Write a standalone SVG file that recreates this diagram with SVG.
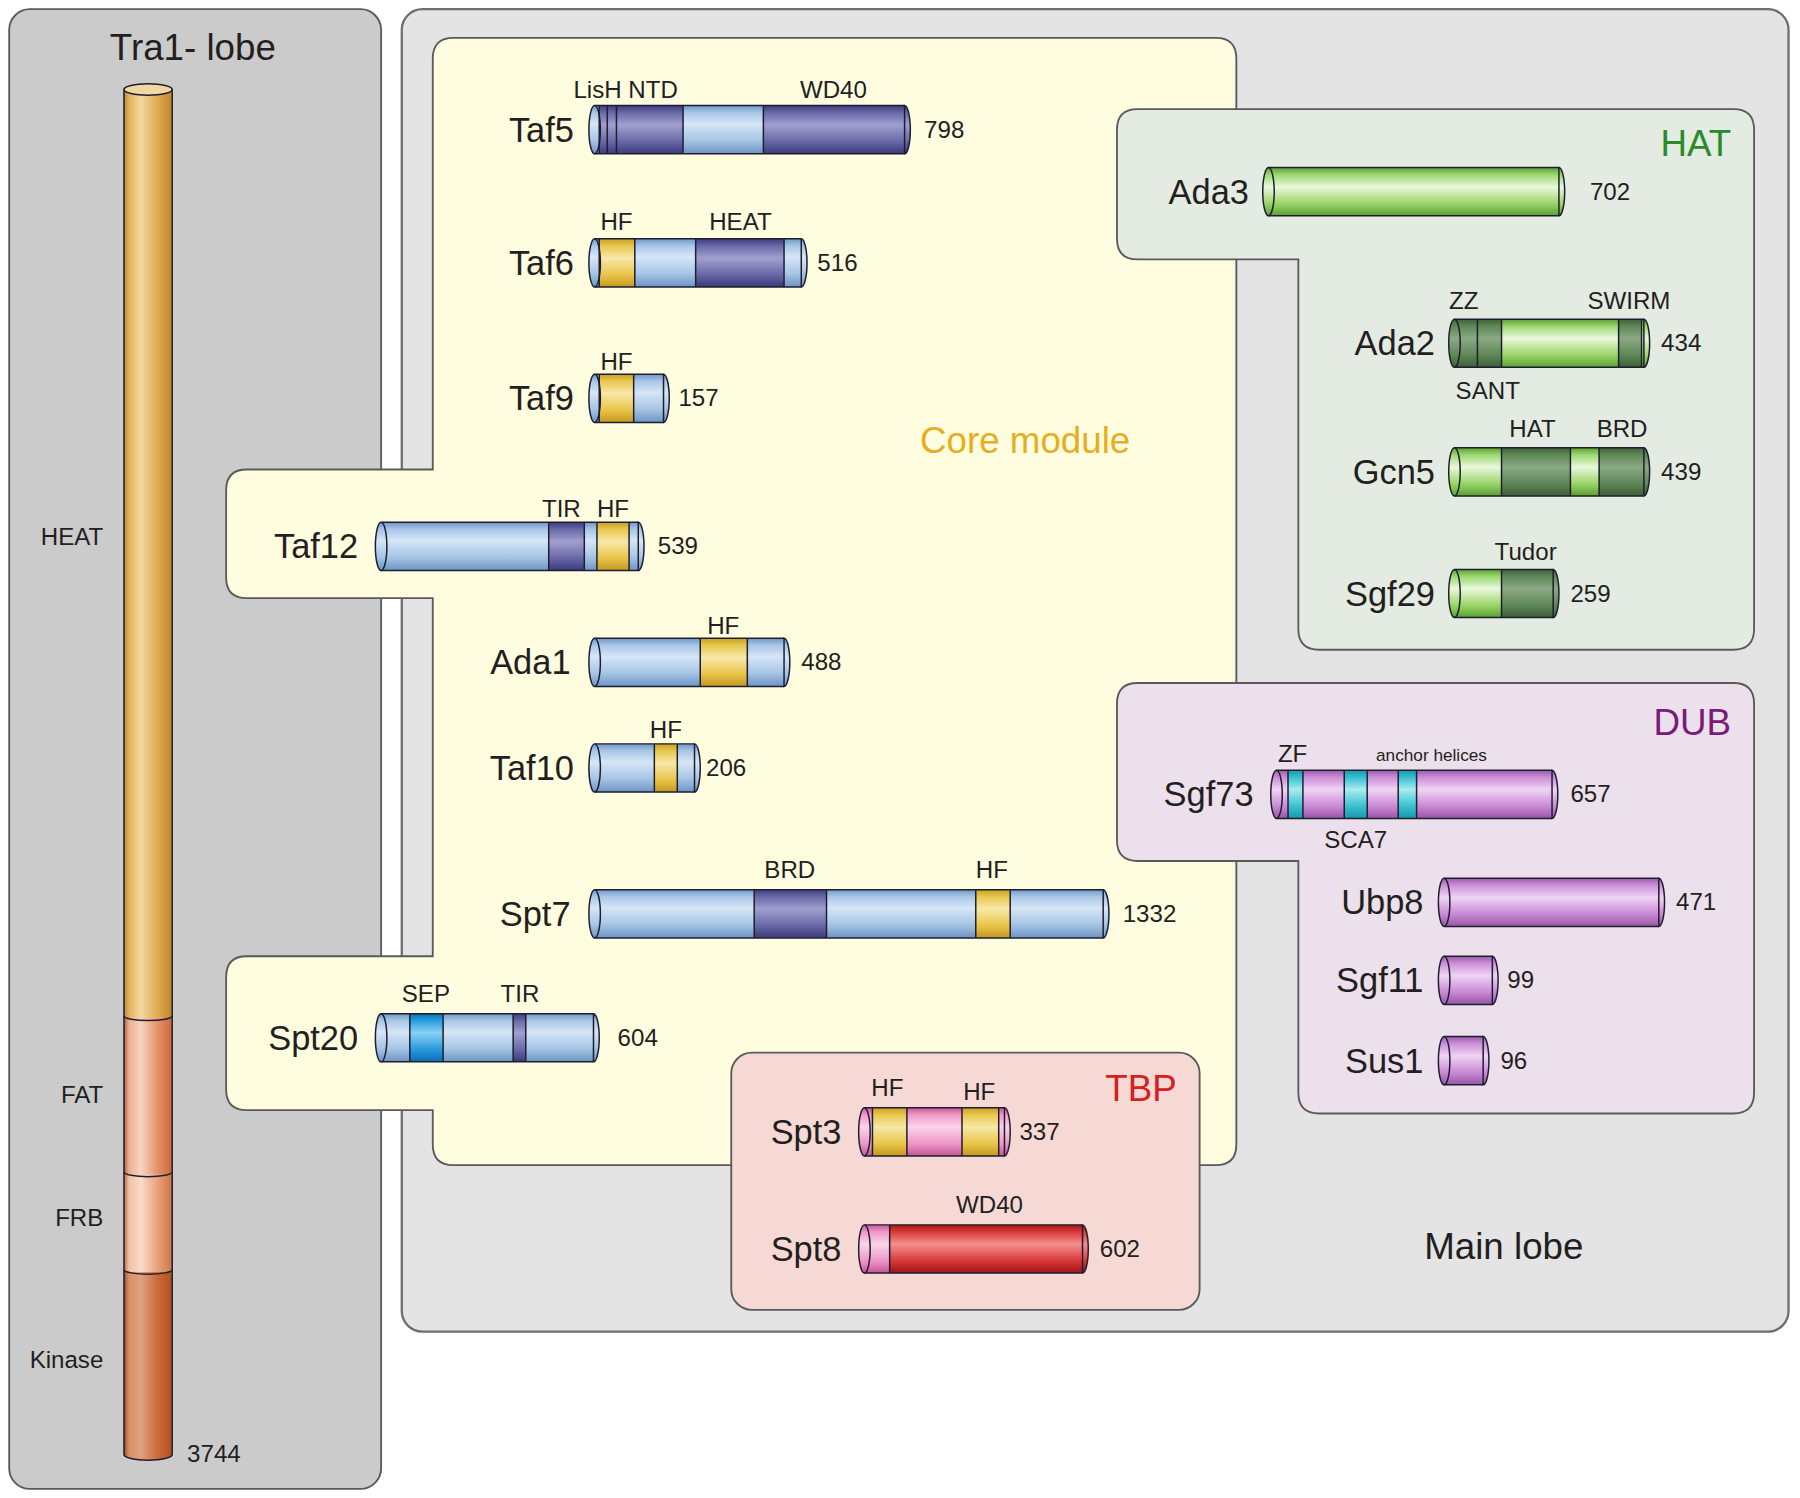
<svg xmlns="http://www.w3.org/2000/svg" width="1800" height="1498" viewBox="0 0 1800 1498">
<style>
.pn{font:30px "Liberation Sans",Arial,sans-serif;fill:#231f20;text-anchor:end}
.dl{font:21px "Liberation Sans",Arial,sans-serif;fill:#231f20;text-anchor:middle}
.nm{font:21px "Liberation Sans",Arial,sans-serif;fill:#231f20}
.tl{font:21px "Liberation Sans",Arial,sans-serif;fill:#231f20;text-anchor:end}
.big{font:32px "Liberation Sans",Arial,sans-serif;fill:#231f20}
.o{fill:none;stroke:#1e1e30;stroke-width:1.3;stroke-linejoin:round}
.c{stroke:#1e1e30;stroke-width:1.3}
.lb{fill:url(#gLB)}.dp{fill:url(#gDP)}.ye{fill:url(#gYE)}.gr{fill:url(#gGR)}.dg{fill:url(#gDG)}
.li{fill:url(#gLI)}.cy{fill:url(#gCY)}.pk{fill:url(#gPK)}.rd{fill:url(#gRD)}.sb{fill:url(#gSB)}
.panel{stroke:#5a5a5a;stroke-width:1.6}
</style>
<defs>
<linearGradient id="gLB" x1="0" y1="0" x2="0" y2="1"><stop offset="0" stop-color="#6f98c8"/><stop offset=".15" stop-color="#a9c7e6"/><stop offset=".38" stop-color="#d6e6f6"/><stop offset=".72" stop-color="#a7c5e5"/><stop offset="1" stop-color="#6d94c4"/></linearGradient>
<linearGradient id="gDP" x1="0" y1="0" x2="0" y2="1"><stop offset="0" stop-color="#3c3c80"/><stop offset=".15" stop-color="#6a6aa8"/><stop offset=".4" stop-color="#a0a0d0"/><stop offset=".75" stop-color="#6767a6"/><stop offset="1" stop-color="#3a3a7c"/></linearGradient>
<linearGradient id="gYE" x1="0" y1="0" x2="0" y2="1"><stop offset="0" stop-color="#c9a020"/><stop offset=".15" stop-color="#e8c850"/><stop offset=".4" stop-color="#f8e8a8"/><stop offset=".75" stop-color="#e8c448"/><stop offset="1" stop-color="#c49820"/></linearGradient>
<linearGradient id="gGR" x1="0" y1="0" x2="0" y2="1"><stop offset="0" stop-color="#5aa030"/><stop offset=".15" stop-color="#9cd870"/><stop offset=".4" stop-color="#eaf8dc"/><stop offset=".75" stop-color="#9ad468"/><stop offset="1" stop-color="#58a030"/></linearGradient>
<linearGradient id="gDG" x1="0" y1="0" x2="0" y2="1"><stop offset="0" stop-color="#3e6238"/><stop offset=".15" stop-color="#5f8858"/><stop offset=".4" stop-color="#8aaa84"/><stop offset=".75" stop-color="#5e8656"/><stop offset="1" stop-color="#3c5e36"/></linearGradient>
<linearGradient id="gLI" x1="0" y1="0" x2="0" y2="1"><stop offset="0" stop-color="#9a5aa8"/><stop offset=".15" stop-color="#cc90d8"/><stop offset=".4" stop-color="#f0d4f4"/><stop offset=".75" stop-color="#c888d4"/><stop offset="1" stop-color="#9656a6"/></linearGradient>
<linearGradient id="gCY" x1="0" y1="0" x2="0" y2="1"><stop offset="0" stop-color="#1898a8"/><stop offset=".15" stop-color="#38c0d0"/><stop offset=".4" stop-color="#a8ecf0"/><stop offset=".75" stop-color="#38c0d0"/><stop offset="1" stop-color="#1898a8"/></linearGradient>
<linearGradient id="gPK" x1="0" y1="0" x2="0" y2="1"><stop offset="0" stop-color="#c85898"/><stop offset=".15" stop-color="#f09ac8"/><stop offset=".4" stop-color="#fad4ea"/><stop offset=".75" stop-color="#ee96c6"/><stop offset="1" stop-color="#c45494"/></linearGradient>
<linearGradient id="gRD" x1="0" y1="0" x2="0" y2="1"><stop offset="0" stop-color="#a01818"/><stop offset=".15" stop-color="#dc3a3a"/><stop offset=".4" stop-color="#f49090"/><stop offset=".75" stop-color="#d83636"/><stop offset="1" stop-color="#9c1616"/></linearGradient>
<linearGradient id="gSB" x1="0" y1="0" x2="0" y2="1"><stop offset="0" stop-color="#0a70b8"/><stop offset=".15" stop-color="#2a9ee0"/><stop offset=".4" stop-color="#8ad0f4"/><stop offset=".75" stop-color="#2898dc"/><stop offset="1" stop-color="#0a6cb4"/></linearGradient>
<linearGradient id="tGold" x1="0" y1="0" x2="1" y2="0"><stop offset="0" stop-color="#b8862a"/><stop offset=".1" stop-color="#e0b45c"/><stop offset=".35" stop-color="#f2d8a0"/><stop offset=".7" stop-color="#e0aa50"/><stop offset="1" stop-color="#c08428"/></linearGradient>
<linearGradient id="tFat" x1="0" y1="0" x2="1" y2="0"><stop offset="0" stop-color="#b85a30"/><stop offset=".1" stop-color="#eab090"/><stop offset=".35" stop-color="#f8d4c0"/><stop offset=".7" stop-color="#e69068"/><stop offset="1" stop-color="#c86838"/></linearGradient>
<linearGradient id="tFrb" x1="0" y1="0" x2="1" y2="0"><stop offset="0" stop-color="#c06a40"/><stop offset=".1" stop-color="#f0c0a0"/><stop offset=".35" stop-color="#fadcca"/><stop offset=".7" stop-color="#eaa07a"/><stop offset="1" stop-color="#cc7448"/></linearGradient>
<linearGradient id="tKin" x1="0" y1="0" x2="1" y2="0"><stop offset="0" stop-color="#a04818"/><stop offset=".1" stop-color="#d89068"/><stop offset=".35" stop-color="#e0a080"/><stop offset=".7" stop-color="#cc6a38"/><stop offset="1" stop-color="#b05020"/></linearGradient>
</defs>
<rect width="1800" height="1498" fill="#ffffff"/>
<g transform="scale(1.147959)">

<!-- Tra1 lobe -->
<g id="tra1-lobe">
<rect class="panel" x="8" y="8" width="324" height="1289" rx="18" fill="#cbcbcb"/>
<text class="big" x="168" y="52" text-anchor="middle" font-size="31">Tra1- lobe</text>
<rect x="108" y="78" width="42" height="809" fill="url(#tGold)"/>
<rect x="108" y="887" width="42" height="136" fill="url(#tFat)"/>
<rect x="108" y="1023" width="42" height="85" fill="url(#tFrb)"/>
<path d="M108,1108 H150 V1267 A21,5 0 0 1 108,1267 Z" fill="url(#tKin)"/>
<ellipse cx="129" cy="78" rx="21" ry="5" fill="#f0d8a0" class="c"/>
<path class="o" d="M108,78 V1267 A21,5 0 0 0 150,1267 V78"/>
<path class="o" d="M108,885 A21,4 0 0 0 150,885 M108,1021 A21,4 0 0 0 150,1021 M108,1106 A21,4 0 0 0 150,1106"/>
<text class="tl" x="90" y="475">HEAT</text>
<text class="tl" x="90" y="961">FAT</text>
<text class="tl" x="90" y="1068">FRB</text>
<text class="tl" x="90" y="1192">Kinase</text>
<text class="nm" x="163" y="1274">3744</text>
</g>

<!-- Main lobe -->
<g id="main-lobe">
<rect x="350" y="8" width="1208" height="1152" rx="18" fill="#e4e4e4" stroke="#6e6e6e" stroke-width="2"/>
<text class="big" x="1310" y="1097" text-anchor="middle">Main lobe</text>
</g>

<!-- Core module -->
<g id="core-module">
<path class="panel" fill="#fffde0" d="M395,33 H1059 Q1077,33 1077,51 V997 Q1077,1015 1059,1015 H395 Q377,1015 377,997 V967 H215 Q197,967 197,949 V851 Q197,833 215,833 H377 V521 H215 Q197,521 197,503 V427 Q197,409 215,409 H377 V51 Q377,33 395,33 Z"/>
<text class="big" x="893" y="395" text-anchor="middle" fill="#e6ae1e" style="fill:#e6ae1e">Core module</text>
</g>

<!-- HAT module -->
<g id="hat-module">
<path class="panel" fill="#e3ebe3" d="M991,95 H1510 Q1528,95 1528,113 V548 Q1528,566 1510,566 H1149 Q1131,566 1131,548 V226 H991 Q973,226 973,208 V113 Q973,95 991,95 Z"/>
<text class="big" x="1508" y="136" text-anchor="end" style="fill:#2a8a2a">HAT</text>
</g>

<!-- DUB module -->
<g id="dub-module">
<path class="panel" fill="#ece0ec" d="M991,595 H1510 Q1528,595 1528,613 V952 Q1528,970 1510,970 H1149 Q1131,970 1131,952 V750 H991 Q973,750 973,732 V613 Q973,595 991,595 Z"/>
<text class="big" x="1508" y="640" text-anchor="end" style="fill:#7a1a7a">DUB</text>
</g>

<!-- TBP module -->
<g id="tbp-module">
<rect class="panel" x="637" y="917" width="408" height="224" rx="18" fill="#f6d9d5"/>
<text class="big" x="1025" y="959" text-anchor="end" style="fill:#d42020">TBP</text>
</g>

<g id="connectors"></g>

<!-- Proteins -->
<g id="taf5">
<text class="pn" x="500" y="123.5">Taf5</text>
<g transform="translate(513,92)">
<rect class="lb" x="5" y="0" width="4" height="42"/><rect class="dp" x="9" y="0" width="73" height="42"/><rect class="lb" x="82" y="0" width="70" height="42"/><rect class="dp" x="152" y="0" width="123" height="42"/>
<path class="dp c" d="M275,0 A5,21 0 0 1 275,42 Z"/>
<ellipse class="lb c" cx="5" cy="21" rx="5" ry="21"/>
<path class="o" d="M5,0 H275 M5,42 H275 M9,0 V42 M16,0 V42 M24,0 V42 M82,0 V42 M152,0 V42"/>
</g>
<text class="dl" x="545" y="85">LisH NTD</text>
<text class="dl" x="726" y="85">WD40</text>
<text class="nm" x="805" y="120">798</text>
</g>

<g id="taf6">
<text class="pn" x="500" y="239.5">Taf6</text>
<g transform="translate(513,208)">
<rect class="lb" x="5" y="0" width="4" height="42"/><rect class="ye" x="9" y="0" width="31" height="42"/><rect class="lb" x="40" y="0" width="53" height="42"/><rect class="dp" x="93" y="0" width="77" height="42"/><rect class="lb" x="170" y="0" width="15" height="42"/>
<path class="lb c" d="M185,0 A5,21 0 0 1 185,42 Z"/>
<ellipse class="lb c" cx="5" cy="21" rx="5" ry="21"/>
<path class="o" d="M5,0 H185 M5,42 H185 M9,0 V42 M40,0 V42 M93,0 V42 M170,0 V42"/>
</g>
<text class="dl" x="537" y="200">HF</text>
<text class="dl" x="645" y="200">HEAT</text>
<text class="nm" x="712" y="236">516</text>
</g>

<g id="taf9">
<text class="pn" x="500" y="357.5">Taf9</text>
<g transform="translate(513,326)">
<rect class="lb" x="5" y="0" width="4" height="42"/><rect class="ye" x="9" y="0" width="30" height="42"/><rect class="lb" x="39" y="0" width="26" height="42"/>
<path class="lb c" d="M65,0 A5,21 0 0 1 65,42 Z"/>
<ellipse class="lb c" cx="5" cy="21" rx="5" ry="21"/>
<path class="o" d="M5,0 H65 M5,42 H65 M9,0 V42 M39,0 V42"/>
</g>
<text class="dl" x="537" y="322">HF</text>
<text class="nm" x="591" y="354">157</text>
</g>

<g id="taf12">
<text class="pn" x="312" y="486.5">Taf12</text>
<g transform="translate(327,455)">
<rect class="lb" x="5" y="0" width="146" height="42"/><rect class="dp" x="151" y="0" width="31" height="42"/><rect class="lb" x="182" y="0" width="11" height="42"/><rect class="ye" x="193" y="0" width="28" height="42"/><rect class="lb" x="221" y="0" width="8" height="42"/>
<path class="lb c" d="M229,0 A5,21 0 0 1 229,42 Z"/>
<ellipse class="lb c" cx="5" cy="21" rx="5" ry="21"/>
<path class="o" d="M5,0 H229 M5,42 H229 M151,0 V42 M182,0 V42 M193,0 V42 M221,0 V42"/>
</g>
<text class="dl" x="489" y="450">TIR</text>
<text class="dl" x="534" y="450">HF</text>
<text class="nm" x="573" y="483">539</text>
</g>

<g id="ada1">
<text class="pn" x="497" y="587.5">Ada1</text>
<g transform="translate(513,556)">
<rect class="lb" x="5" y="0" width="92" height="42"/><rect class="ye" x="97" y="0" width="41" height="42"/><rect class="lb" x="138" y="0" width="32" height="42"/>
<path class="lb c" d="M170,0 A5,21 0 0 1 170,42 Z"/>
<ellipse class="lb c" cx="5" cy="21" rx="5" ry="21"/>
<path class="o" d="M5,0 H170 M5,42 H170 M97,0 V42 M138,0 V42"/>
</g>
<text class="dl" x="630" y="552">HF</text>
<text class="nm" x="698" y="584">488</text>
</g>

<g id="taf10">
<text class="pn" x="500" y="679.5">Taf10</text>
<g transform="translate(513,648)">
<rect class="lb" x="5" y="0" width="52" height="42"/><rect class="ye" x="57" y="0" width="20" height="42"/><rect class="lb" x="77" y="0" width="15" height="42"/>
<path class="lb c" d="M92,0 A5,21 0 0 1 92,42 Z"/>
<ellipse class="lb c" cx="5" cy="21" rx="5" ry="21"/>
<path class="o" d="M5,0 H92 M5,42 H92 M57,0 V42 M77,0 V42"/>
</g>
<text class="dl" x="580" y="643">HF</text>
<text class="nm" x="615" y="676">206</text>
</g>

<g id="spt7">
<text class="pn" x="497" y="806.5">Spt7</text>
<g transform="translate(513,775)">
<rect class="lb" x="5" y="0" width="139" height="42"/><rect class="dp" x="144" y="0" width="63" height="42"/><rect class="lb" x="207" y="0" width="130" height="42"/><rect class="ye" x="337" y="0" width="30" height="42"/><rect class="lb" x="367" y="0" width="81" height="42"/>
<path class="lb c" d="M448,0 A5,21 0 0 1 448,42 Z"/>
<ellipse class="lb c" cx="5" cy="21" rx="5" ry="21"/>
<path class="o" d="M5,0 H448 M5,42 H448 M144,0 V42 M207,0 V42 M337,0 V42 M367,0 V42"/>
</g>
<text class="dl" x="688" y="765">BRD</text>
<text class="dl" x="864" y="765">HF</text>
<text class="nm" x="978" y="803">1332</text>
</g>

<g id="spt20">
<text class="pn" x="312" y="914.5">Spt20</text>
<g transform="translate(327,883)">
<rect class="lb" x="5" y="0" width="25" height="42"/><rect class="sb" x="30" y="0" width="29" height="42"/><rect class="lb" x="59" y="0" width="61" height="42"/><rect class="dp" x="120" y="0" width="11" height="42"/><rect class="lb" x="131" y="0" width="59" height="42"/>
<path class="lb c" d="M190,0 A5,21 0 0 1 190,42 Z"/>
<ellipse class="lb c" cx="5" cy="21" rx="5" ry="21"/>
<path class="o" d="M5,0 H190 M5,42 H190 M30,0 V42 M59,0 V42 M120,0 V42 M131,0 V42"/>
</g>
<text class="dl" x="371" y="873">SEP</text>
<text class="dl" x="453" y="873">TIR</text>
<text class="nm" x="538" y="911">604</text>
</g>

<g id="ada3">
<text class="pn" x="1088" y="177.5">Ada3</text>
<g transform="translate(1100,146)">
<rect class="gr" x="5" y="0" width="253" height="42"/>
<path class="gr c" d="M258,0 A5,21 0 0 1 258,42 Z"/>
<ellipse class="gr c" cx="5" cy="21" rx="5" ry="21"/>
<path class="o" d="M5,0 H258 M5,42 H258"/>
</g>
<text class="nm" x="1385" y="174">702</text>
</g>

<g id="ada2">
<text class="pn" x="1250" y="309.5">Ada2</text>
<g transform="translate(1262,278)">
<rect class="dg" x="5" y="0" width="20" height="42"/><rect class="dg" x="25" y="0" width="21" height="42"/><rect class="gr" x="46" y="0" width="102" height="42"/><rect class="dg" x="148" y="0" width="20" height="42"/><rect class="gr" x="168" y="0" width="2" height="42"/>
<path class="gr c" d="M170,0 A5,21 0 0 1 170,42 Z"/>
<ellipse class="dg c" cx="5" cy="21" rx="5" ry="21"/>
<path class="o" d="M5,0 H170 M5,42 H170 M25,0 V42 M46,0 V42 M148,0 V42 M168,0 V42"/>
</g>
<text class="dl" x="1275" y="269">ZZ</text>
<text class="dl" x="1419" y="269">SWIRM</text>
<text class="dl" x="1296" y="348">SANT</text>
<text class="nm" x="1447" y="306">434</text>
</g>

<g id="gcn5">
<text class="pn" x="1250" y="421.5">Gcn5</text>
<g transform="translate(1262,390)">
<rect class="gr" x="5" y="0" width="41" height="42"/><rect class="dg" x="46" y="0" width="60" height="42"/><rect class="gr" x="106" y="0" width="25" height="42"/><rect class="dg" x="131" y="0" width="39" height="42"/>
<path class="dg c" d="M170,0 A5,21 0 0 1 170,42 Z"/>
<ellipse class="gr c" cx="5" cy="21" rx="5" ry="21"/>
<path class="o" d="M5,0 H170 M5,42 H170 M46,0 V42 M106,0 V42 M131,0 V42"/>
</g>
<text class="dl" x="1335" y="381">HAT</text>
<text class="dl" x="1413" y="381">BRD</text>
<text class="nm" x="1447" y="418">439</text>
</g>

<g id="sgf29">
<text class="pn" x="1250" y="527.5">Sgf29</text>
<g transform="translate(1262,496)">
<rect class="gr" x="5" y="0" width="41" height="42"/><rect class="dg" x="46" y="0" width="45" height="42"/>
<path class="dg c" d="M91,0 A5,21 0 0 1 91,42 Z"/>
<ellipse class="gr c" cx="5" cy="21" rx="5" ry="21"/>
<path class="o" d="M5,0 H91 M5,42 H91 M46,0 V42"/>
</g>
<text class="dl" x="1329" y="488">Tudor</text>
<text class="nm" x="1368" y="524">259</text>
</g>

<g id="sgf73">
<text class="pn" x="1092" y="702.5">Sgf73</text>
<g transform="translate(1107,671)">
<rect class="li" x="5" y="0" width="10" height="42"/><rect class="cy" x="15" y="0" width="13" height="42"/><rect class="li" x="28" y="0" width="36" height="42"/><rect class="cy" x="64" y="0" width="20" height="42"/><rect class="li" x="84" y="0" width="27" height="42"/><rect class="cy" x="111" y="0" width="16" height="42"/><rect class="li" x="127" y="0" width="118" height="42"/>
<path class="li c" d="M245,0 A5,21 0 0 1 245,42 Z"/>
<ellipse class="li c" cx="5" cy="21" rx="5" ry="21"/>
<path class="o" d="M5,0 H245 M5,42 H245 M15,0 V42 M28,0 V42 M64,0 V42 M84,0 V42 M111,0 V42 M127,0 V42"/>
</g>
<text class="dl" x="1126" y="664">ZF</text>
<text class="dl" x="1247" y="663" font-size="15" style="font-size:15px">anchor helices</text>
<text class="dl" x="1181" y="739">SCA7</text>
<text class="nm" x="1368" y="699">657</text>
</g>

<g id="ubp8">
<text class="pn" x="1240" y="796.5">Ubp8</text>
<g transform="translate(1253,765)">
<rect class="li" x="5" y="0" width="187" height="42"/>
<path class="li c" d="M192,0 A5,21 0 0 1 192,42 Z"/>
<ellipse class="li c" cx="5" cy="21" rx="5" ry="21"/>
<path class="o" d="M5,0 H192 M5,42 H192"/>
</g>
<text class="nm" x="1460" y="793">471</text>
</g>

<g id="sgf11">
<text class="pn" x="1240" y="864.5">Sgf11</text>
<g transform="translate(1253,833)">
<rect class="li" x="5" y="0" width="42" height="42"/>
<path class="li c" d="M47,0 A5,21 0 0 1 47,42 Z"/>
<ellipse class="li c" cx="5" cy="21" rx="5" ry="21"/>
<path class="o" d="M5,0 H47 M5,42 H47"/>
</g>
<text class="nm" x="1313" y="861">99</text>
</g>

<g id="sus1">
<text class="pn" x="1240" y="934.5">Sus1</text>
<g transform="translate(1253,903)">
<rect class="li" x="5" y="0" width="34" height="42"/>
<path class="li c" d="M39,0 A5,21 0 0 1 39,42 Z"/>
<ellipse class="li c" cx="5" cy="21" rx="5" ry="21"/>
<path class="o" d="M5,0 H39 M5,42 H39"/>
</g>
<text class="nm" x="1307" y="931">96</text>
</g>

<g id="spt3">
<text class="pn" x="733" y="996.5">Spt3</text>
<g transform="translate(748,965)">
<rect class="pk" x="5" y="0" width="7" height="42"/><rect class="ye" x="12" y="0" width="30" height="42"/><rect class="pk" x="42" y="0" width="48" height="42"/><rect class="ye" x="90" y="0" width="32" height="42"/><rect class="pk" x="122" y="0" width="5" height="42"/>
<path class="pk c" d="M127,0 A5,21 0 0 1 127,42 Z"/>
<ellipse class="pk c" cx="5" cy="21" rx="5" ry="21"/>
<path class="o" d="M5,0 H127 M5,42 H127 M12,0 V42 M42,0 V42 M90,0 V42 M122,0 V42"/>
</g>
<text class="dl" x="773" y="955">HF</text>
<text class="dl" x="853" y="958">HF</text>
<text class="nm" x="888" y="993">337</text>
</g>

<g id="spt8">
<text class="pn" x="733" y="1098.5">Spt8</text>
<g transform="translate(748,1067)">
<rect class="pk" x="5" y="0" width="22" height="42"/><rect class="rd" x="27" y="0" width="168" height="42"/>
<path class="rd c" d="M195,0 A5,21 0 0 1 195,42 Z"/>
<ellipse class="pk c" cx="5" cy="21" rx="5" ry="21"/>
<path class="o" d="M5,0 H195 M5,42 H195 M27,0 V42"/>
</g>
<text class="dl" x="862" y="1057">WD40</text>
<text class="nm" x="958" y="1095">602</text>
</g>

</g>
</svg>
